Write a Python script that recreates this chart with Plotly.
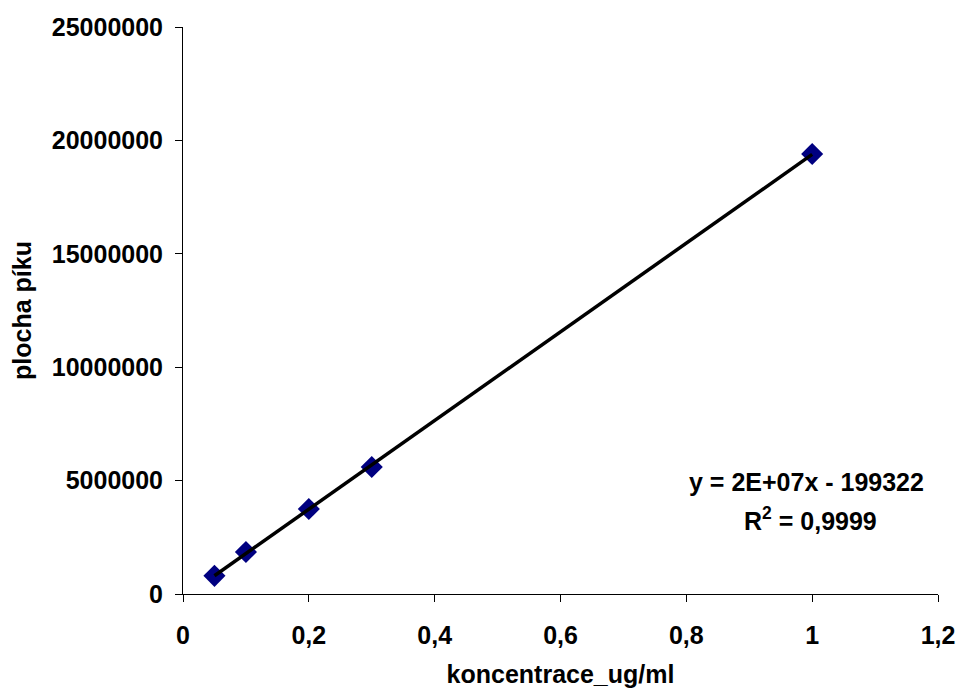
import numpy as np
import plotly.graph_objects as go

# Data
koncentrace = [0.05, 0.1, 0.2, 0.3, 1.0]
plocha = [800000, 1850000, 3750000, 5600000, 19400000]

x_tickvals = [0, 0.2, 0.4, 0.6, 0.8, 1.0, 1.2]
x_ticktext = ["0", "0,2", "0,4", "0,6", "0,8", "1", "1,2"]
y_tickvals = [0, 5000000, 10000000, 15000000, 20000000, 25000000]
y_ticktext = ["0", "5000000", "10000000", "15000000", "20000000", "25000000"]

eq_text = "y = 2E+07x - 199322"
r2_text = "R<sup>2</sup> = 0,9999"

# Linear trendline from data
slope, intercept = np.polyfit(koncentrace, plocha, 1)
tx = [min(koncentrace), max(koncentrace)]
ty = [slope * v + intercept for v in tx]

FONT = "Arial, Liberation Sans, sans-serif"
FS = 25

fig = go.Figure()
fig.add_trace(go.Scatter(
    x=koncentrace, y=plocha, mode="markers",
    marker=dict(symbol="diamond", size=17, color="#000080", line=dict(width=0)),
    showlegend=False,
))
fig.add_trace(go.Scatter(
    x=tx, y=ty, mode="lines",
    line=dict(color="black", width=3.5),
    showlegend=False,
))

fig.add_annotation(
    xref="paper", yref="paper", x=(806 - 183) / 755, y=(594 - 482) / 567,
    text="<b>" + eq_text + "</b>", showarrow=False, xanchor="center", yanchor="middle",
    font=dict(family=FONT, size=FS, color="black"),
)
fig.add_annotation(
    xref="paper", yref="paper", x=(810 - 183) / 755, y=(594 - 519) / 567,
    text="<b>" + r2_text + "</b>", showarrow=False, xanchor="center", yanchor="middle",
    font=dict(family=FONT, size=FS, color="black"),
)

axis_common = dict(
    showgrid=False, zeroline=False, showline=True, linecolor="black", linewidth=1,
    ticks="outside", ticklen=7, tickcolor="black", tickwidth=1,
    tickfont=dict(family=FONT, size=FS, color="black", weight="bold"),
    automargin=False,
)

fig.update_layout(
    width=960, height=689,
    margin=dict(l=183, r=22, t=27, b=95),
    paper_bgcolor="white", plot_bgcolor="white",
    xaxis=dict(
        range=[0, 1.2], tickvals=x_tickvals, ticktext=x_ticktext,
        ticklabelstandoff=12,
        title=dict(text="<b>koncentrace_ug/ml</b>", standoff=17,
                   font=dict(family=FONT, size=FS, color="black")),
        **axis_common,
    ),
    yaxis=dict(
        range=[0, 25000000], tickvals=y_tickvals, ticktext=y_ticktext,
        ticklabelstandoff=7,
        title=dict(text="<b>plocha píku</b>", standoff=13,
                   font=dict(family=FONT, size=FS, color="black")),
        **axis_common,
    ),
)

fig.write_html("out.html")
